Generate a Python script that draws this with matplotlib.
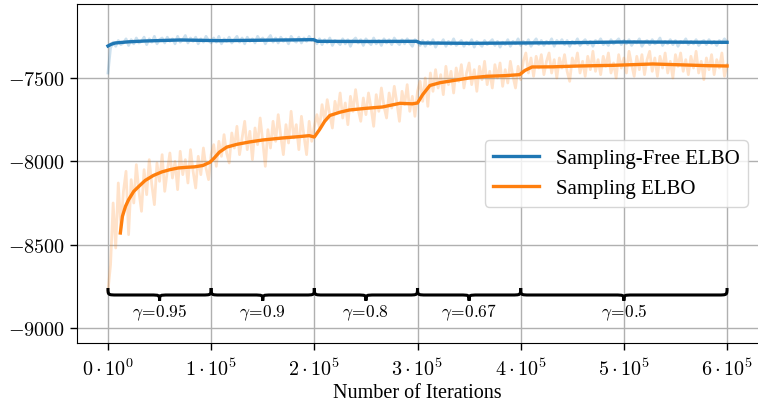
import numpy as np
import matplotlib
matplotlib.use("Agg")
import matplotlib.pyplot as plt
from matplotlib.path import Path
from matplotlib.patches import PathPatch

plt.rcParams['font.family'] = 'serif'
plt.rcParams['font.serif'] = ['Liberation Serif', 'DejaVu Serif']
plt.rcParams['mathtext.fontset'] = 'cm'

# raw curves, logged every 2500 iterations
raw_x = list(range(0, 600001, 2500))

free_raw = [-7470,
            -7320, -7285, -7310, -7275, -7300, -7290, -7265, -7305,
            -7270, -7295, -7260, -7290, -7280, -7255, -7300, -7265,
            -7285, -7250, -7295, -7270, -7260, -7290, -7255, -7280,
            -7265, -7295, -7250, -7285, -7270, -7245, -7290, -7260,
            -7280, -7255, -7295, -7265, -7285, -7250, -7275, -7290,
            -7260, -7285, -7250, -7295, -7265, -7280, -7255, -7290,
            -7270, -7250, -7285, -7260, -7295, -7255, -7280, -7265,
            -7290, -7250, -7275, -7260, -7295, -7265, -7245, -7285,
            -7260, -7290, -7255, -7280, -7265, -7295, -7250, -7275,
            -7285, -7255, -7290, -7260, -7280, -7250, -7275, -7265,
            -7295, -7265, -7300, -7270, -7290, -7260, -7305, -7275,
            -7285, -7300, -7265, -7295, -7270, -7310, -7275, -7260,
            -7290, -7270, -7305, -7265, -7285, -7300, -7260, -7295,
            -7275, -7305, -7265, -7290, -7270, -7300, -7260, -7285,
            -7300, -7270, -7295, -7265, -7290, -7310, -7270, -7285,
            -7305, -7275, -7310, -7280, -7300, -7270, -7315, -7285,
            -7295, -7270, -7310, -7280, -7300, -7265, -7305, -7290,
            -7275, -7310, -7285, -7300, -7270, -7315, -7280, -7295,
            -7310, -7275, -7300, -7285, -7270, -7305, -7280, -7315,
            -7285, -7300, -7270, -7310, -7280, -7295, -7265, -7305,
            -7280, -7300, -7270, -7310, -7285, -7265, -7300, -7275,
            -7305, -7280, -7295, -7265, -7310, -7275, -7290, -7270,
            -7300, -7275, -7310, -7280, -7295, -7265, -7305, -7285,
            -7270, -7300, -7280, -7310, -7275, -7290, -7265, -7300,
            -7285, -7305, -7270, -7295, -7280, -7265, -7300, -7275,
            -7295, -7270, -7305, -7280, -7290, -7265, -7310, -7285,
            -7275, -7300, -7270, -7295, -7285, -7260, -7305, -7280,
            -7295, -7270, -7300, -7275, -7310, -7280, -7290, -7265,
            -7300, -7280, -7295, -7270, -7305, -7285, -7275, -7300,
            -7270, -7295, -7280, -7305, -7275, -7290, -7265, -7285]

samp_raw = [-8780,
            -8620, -8250, -8520, -8130, -8400, -8180, -8060, -8440,
            -8110, -8250, -8020, -8180, -8300, -8050, -8200, -7990,
            -8140, -8260, -8010, -8120, -7960, -8180, -8060, -7950,
            -8100, -8000, -8170, -7940, -8080, -7990, -8130, -7930,
            -8060, -8160, -7970, -8080, -7920, -8040, -8110, -7960,
            -7900, -8030, -7880, -7970, -7840, -7950, -8010, -7830,
            -7920, -7790, -7960, -7860, -7760, -7930, -7820, -7990,
            -7800, -7900, -7740, -7880, -8030, -7810, -7920, -7760,
            -7880, -7720, -7850, -7960, -7780, -7890, -7700, -7860,
            -7780, -7930, -7730, -7850, -7960, -7760, -7880, -7790,
            -7720, -7800, -7660, -7760, -7630, -7720, -7800, -7640,
            -7710, -7590, -7740, -7650, -7780, -7610, -7700, -7570,
            -7690, -7760, -7620, -7720, -7590, -7680, -7790, -7600,
            -7700, -7560, -7670, -7740, -7590, -7680, -7550, -7650,
            -7760, -7580, -7660, -7540, -7700, -7610, -7730, -7580,
            -7520, -7640, -7500, -7670, -7470, -7580, -7450, -7560,
            -7480, -7600, -7430, -7540, -7460, -7590, -7440, -7520,
            -7420, -7560, -7470, -7410, -7540, -7450, -7580, -7430,
            -7510, -7400, -7540, -7460, -7560, -7420, -7500, -7410,
            -7550, -7450, -7530, -7400, -7490, -7560, -7430, -7510,
            -7400, -7350, -7470, -7380, -7490, -7370, -7440, -7360,
            -7480, -7400, -7350, -7470, -7390, -7500, -7380, -7440,
            -7360, -7460, -7520, -7380, -7430, -7350, -7470, -7400,
            -7490, -7370, -7450, -7340, -7460, -7390, -7480, -7370,
            -7430, -7350, -7470, -7410, -7500, -7360, -7440, -7380,
            -7470, -7340, -7420, -7490, -7370, -7450, -7360, -7480,
            -7390, -7340, -7460, -7380, -7490, -7370, -7440, -7350,
            -7470, -7400, -7500, -7360, -7430, -7350, -7460, -7390,
            -7480, -7370, -7440, -7340, -7470, -7400, -7510, -7380,
            -7450, -7360, -7480, -7390, -7440, -7350, -7490, -7420]

# smoothed curves
free_x = [0, 3000, 7000, 20000, 36000, 70000, 108000, 140000, 173000, 199000, 203000,
          250000, 299000, 303000, 350000, 400000, 450000, 500000, 550000, 600000]
free_y = [-7308, -7298, -7290, -7283, -7278, -7272, -7276, -7274, -7272, -7270, -7280,
          -7281, -7280, -7290, -7292, -7290, -7288, -7284, -7285, -7286]

samp_x = [12000, 14000, 17000, 20000, 25000, 30000, 36000, 44000, 52000, 60000, 68000,
          76000, 84000, 92000, 99000, 103000, 108000, 115000, 125000, 137000, 150000,
          169000, 185000, 195000, 200000, 205000, 210000, 215000, 225000, 234000, 250000,
          266000, 283000, 295000, 300000, 305000, 312000, 322000, 334000, 350000, 367000,
          385000, 399000, 404000, 411000, 431000, 457000, 490000, 528000, 560000, 580000,
          600000]
samp_y = [-8430, -8330, -8270, -8230, -8180, -8150, -8115, -8085, -8064, -8050, -8040,
          -8036, -8033, -8025, -8005, -7980, -7945, -7915, -7898, -7884, -7872,
          -7860, -7852, -7846, -7854, -7810, -7760, -7725, -7705, -7692, -7682,
          -7674, -7652, -7655, -7650, -7600, -7545, -7528, -7516, -7500, -7490,
          -7486, -7480, -7455, -7434, -7433, -7428, -7424, -7416, -7422, -7426,
          -7428]

# learning-rate decay phases
phase_start = [0, 100000, 200000, 300000, 400000]
phase_end = [100000, 200000, 300000, 400000, 600000]
phase_gamma = ['0.95', '0.9', '0.8', '0.67', '0.5']

xticks = [0, 100000, 200000, 300000, 400000, 500000, 600000]
xtick_labels = [r'$0\cdot10^{0}$'] + [r'$%d\cdot10^{5}$' % i for i in range(1, 7)]
yticks = [-9000, -8500, -8000, -7500]


def brace(ax, x0, x1, top, mid, bottom, r):
    xm = (x0 + x1) / 2
    verts = [(x0, top), (x0, mid), (x0, mid), (x0 + r, mid),
             (xm - r, mid),
             (xm, mid), (xm, mid), (xm, bottom),
             (xm, mid), (xm, mid), (xm + r, mid),
             (x1 - r, mid),
             (x1, mid), (x1, mid), (x1, top)]
    codes = [Path.MOVETO, Path.CURVE4, Path.CURVE4, Path.CURVE4,
             Path.LINETO,
             Path.CURVE4, Path.CURVE4, Path.CURVE4,
             Path.CURVE4, Path.CURVE4, Path.CURVE4,
             Path.LINETO,
             Path.CURVE4, Path.CURVE4, Path.CURVE4]
    ax.add_patch(PathPatch(Path(verts, codes), fc='none', ec='black', lw=2.2, zorder=5))


fig = plt.figure(figsize=(7.58, 4.02), dpi=100)
ax = fig.add_axes([0.1016, 0.1443, 0.8984, 0.8433])

ax.plot(raw_x, free_raw, color='tab:blue', alpha=0.22, lw=2)
ax.plot(raw_x, samp_raw, color='tab:orange', alpha=0.22, lw=2)
ax.plot(free_x, free_y, color='tab:blue', lw=2.4, label='Sampling-Free ELBO')
ax.plot(samp_x, samp_y, color='tab:orange', lw=2.4, label='Sampling ELBO')

for s, e, g in zip(phase_start, phase_end, phase_gamma):
    brace(ax, s, e, -8760, -8802, -8836, 9000)
    ax.text((s + e) / 2, -8904, r'$\gamma\!=\!%s$' % g, ha='center', va='center',
            fontsize=12.5)

ax.set_xlim(-30000, 630000)
ax.set_ylim(-9090, -7056)
ax.set_xticks(xticks)
ax.set_xticklabels(xtick_labels)
ax.set_yticks(yticks)
ax.set_yticklabels([r'$%d$' % v for v in yticks])
ax.tick_params(labelsize=14.5, length=5, width=1)
ax.tick_params(axis='x', pad=6)
ax.grid(True, color='#b0b0b0', lw=1)
ax.spines['right'].set_visible(False)
ax.set_xlabel('Number of Iterations', fontsize=14.5, labelpad=2)
ax.legend(loc='center right', fontsize=15, handlelength=2.2)

fig.savefig('out.png', dpi=100)
